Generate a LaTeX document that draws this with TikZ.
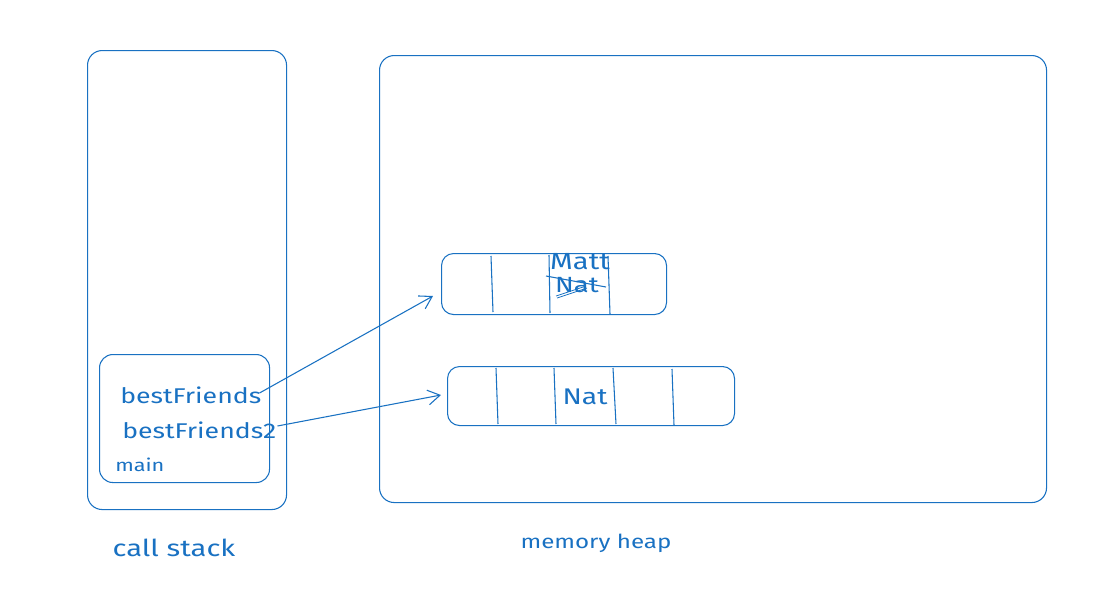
\documentclass[tikz,border=0pt]{standalone}
\usepackage{fontspec}
\setmainfont{Fira Sans}[FakeStretch=1.25]
\usetikzlibrary{arrows.meta}
\definecolor{ink}{HTML}{1971C2}
\begin{document}
\begin{tikzpicture}[x=0.75pt,y=-0.75pt,
  box/.style={draw=ink,line width=0.8pt,rounded corners=11pt},
  cell/.style={draw=ink,line width=0.8pt},
  lbl/.style={text=ink,inner sep=0pt,font=\fontsize{16}{18}\selectfont},
  small/.style={text=ink,inner sep=0pt,font=\fontsize{13}{15}\selectfont},
  big/.style={text=ink,inner sep=0pt,font=\fontsize{17.5}{20}\selectfont},
  val/.style={text=ink,inner sep=0pt,font=\fontsize{17}{19}\selectfont},
  ptr/.style={draw=ink,line width=0.8pt,-{Straight Barb[length=9pt,width=11pt]}}]
\useasboundingbox (0,0) rectangle (1097,597);
% frames
\node[box,minimum width=199*0.75pt,minimum height=459*0.75pt,anchor=north west] (stack) at (87,50) {};
\node[box,minimum width=667*0.75pt,minimum height=447*0.75pt,anchor=north west] (heap) at (379,55) {};
\node[box,minimum width=170*0.75pt,minimum height=128*0.75pt,anchor=north west,rounded corners=10pt] (main) at (99,354) {};
% arrays
\node[box,minimum width=225*0.75pt,minimum height=61*0.75pt,anchor=north west,rounded corners=9pt] (arr1) at (441,253) {};
\node[box,minimum width=287*0.75pt,minimum height=59*0.75pt,anchor=north west,rounded corners=9pt] (arr2) at (447,366) {};
\draw[cell] (491,256) -- (493,312);
\draw[cell] (549,255) -- (550,313);
\draw[cell] (608,256) -- (610,314);
\draw[cell] (496,368) -- (498,424);
\draw[cell] (554,368) -- (556,424);
\draw[cell] (613,368) -- (616,424);
\draw[cell] (672,369) -- (674,425);
% texts
\node[lbl,anchor=west] (bf) at (120,395) {bestFriends};
\node[lbl,anchor=west] (bf2) at (122,430) {bestFriends2};
\node[small,anchor=west] (mn) at (115,465) {main};
\node[val,font=\fontsize{17.5}{20}\selectfont] (matt) at (580,262) {Matt};
\node[val,font=\fontsize{16.5}{19}\selectfont] (nat1) at (577,285.5) {Nat};
\draw[ink,line width=0.8pt] (546,276) -- (606,287);
\draw[ink,line width=0.6pt] (556,296) -- (586,286);
\draw[ink,line width=0.6pt] (557,298) -- (587,288);
\node[val] (nat2) at (585,397) {Nat};
\node[big] (cs) at (174,548) {call stack};
\node[lbl,font=\fontsize{14.5}{17}\selectfont] (mh) at (596,543) {memory heap};
% pointers
\coordinate (p1) at (433,296);
\coordinate (p2) at (441,395);
\draw[ptr] (bf.east) ++(-2,-2) -- (p1);
\draw[ptr] (bf2.east) ++(1,-4) -- (p2);
\end{tikzpicture}
\end{document}
